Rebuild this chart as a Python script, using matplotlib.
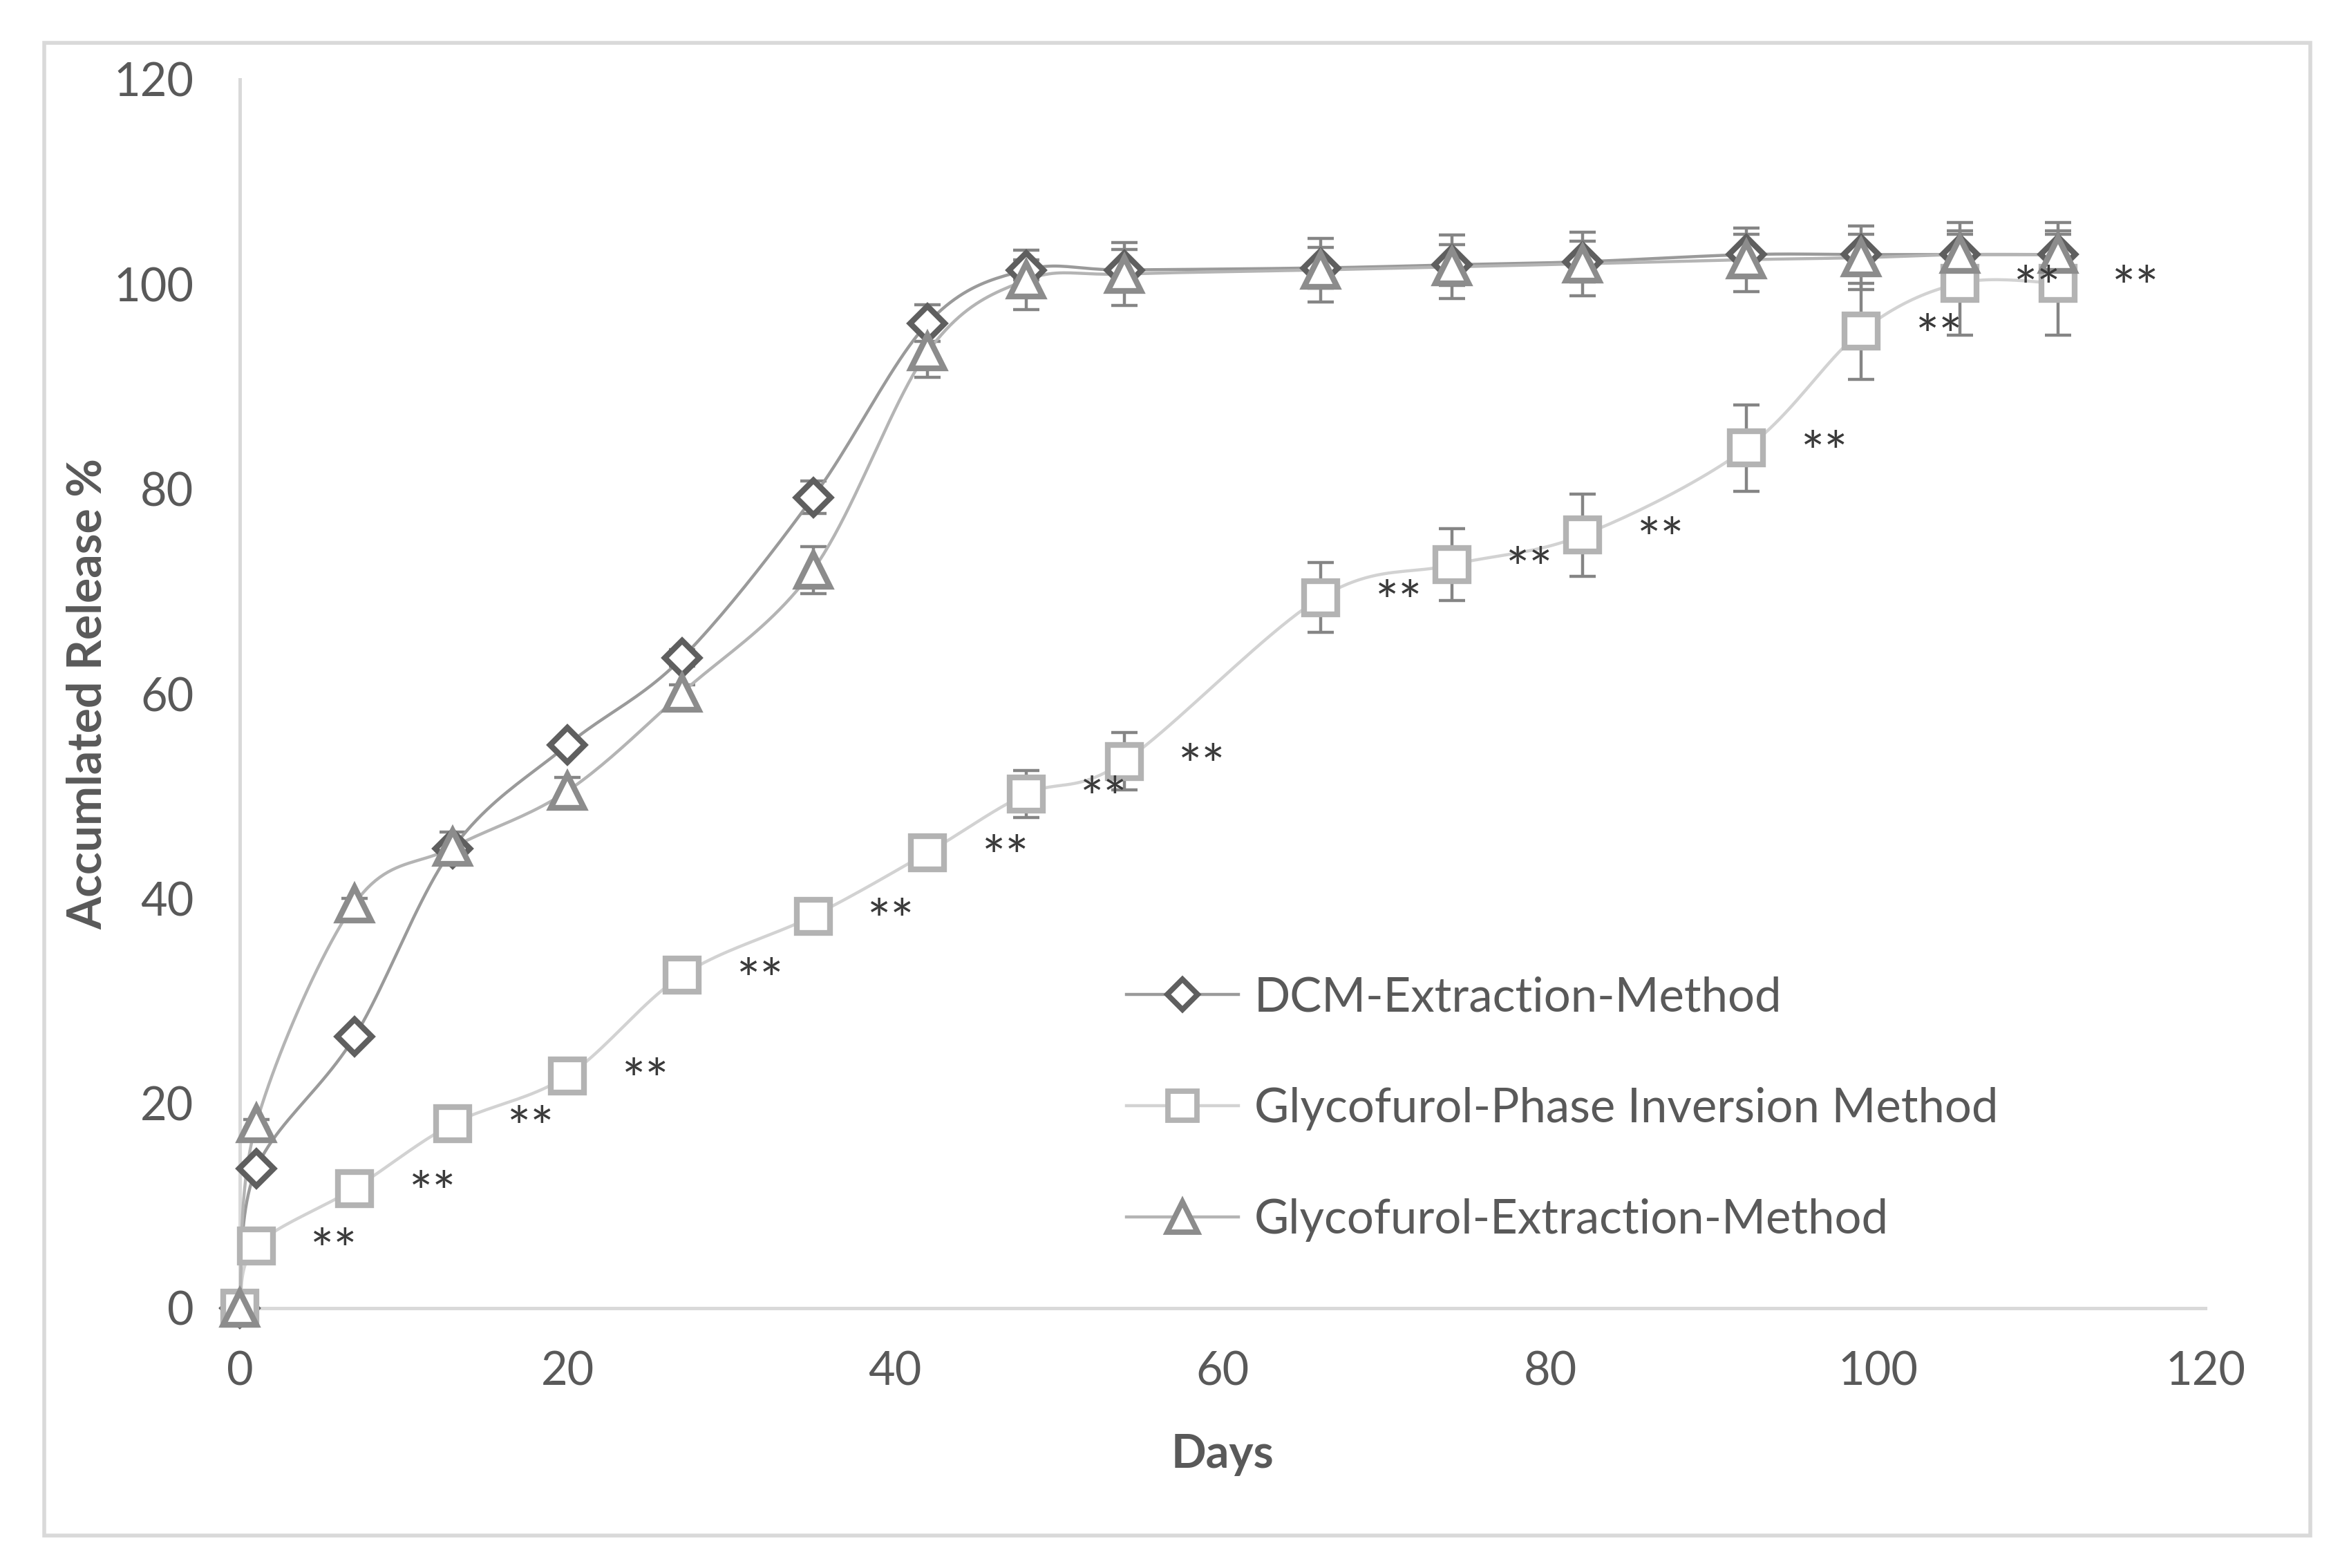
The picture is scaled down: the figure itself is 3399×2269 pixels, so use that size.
import numpy as np
import matplotlib
matplotlib.use('Agg')
import matplotlib.pyplot as plt
from matplotlib.patches import Rectangle
from matplotlib.lines import Line2D

plt.rcParams['font.family'] = ['Lato', 'DejaVu Sans']

# sampling days
days = [0, 1, 7, 13, 20, 27, 35, 42, 48, 54, 66, 74, 82, 92, 99, 105, 111]

# DCM-Extraction-Method
dcm = [0, 13.6, 26.5, 44.9, 55.0, 63.5, 79.2, 96.2, 101.4, 101.4, 101.6, 101.9, 102.2, 102.9, 102.9, 102.9, 102.9]
dcm_err = [0, 0.3, 0.4, 0.5, 0.6, 0.8, 1.6, 1.8, 1.0, 2.0, 2.0, 2.0, 2.0, 2.0, 2.0, 2.0, 2.0]

# Glycofurol-Phase Inversion Method
gpi = [0, 6.1, 11.7, 18.0, 22.7, 32.5, 38.3, 44.5, 50.2, 53.4, 69.4, 72.6, 75.5, 84.0, 95.4, 100.1, 100.1]
gpi_err = [0, 0.3, 0.4, 0.5, 0.6, 0.6, 0.8, 1.6, 2.3, 2.8, 3.4, 3.5, 4.0, 4.2, 4.7, 5.1, 5.1]

# Glycofurol-Extraction-Method
gex = [0, 18.0, 39.5, 45.0, 50.5, 60.1, 72.1, 93.4, 100.4, 101.0, 101.4, 101.7, 102.0, 102.4, 102.6, 102.9, 102.9]
gex_err = [0, 0.4, 0.5, 1.5, 1.3, 0.8, 2.3, 2.5, 2.9, 3.1, 3.1, 3.1, 3.1, 3.1, 3.1, 3.1, 3.1]

labels = ['DCM-Extraction-Method', 'Glycofurol-Phase Inversion Method', 'Glycofurol-Extraction-Method']
ticks = [0, 20, 40, 60, 80, 100, 120]


def smooth(x, y, n=24):
    # excel style smoothed line (catmull-rom as cubic bezier)
    p = np.column_stack([x, y]).astype(float)
    out = [p[0]]
    t = np.linspace(0, 1, n)[1:]
    for i in range(len(p) - 1):
        p0 = p[max(i - 1, 0)]
        p1 = p[i]
        p2 = p[i + 1]
        p3 = p[min(i + 2, len(p) - 1)]
        c1 = p1 + (p2 - p0) / 6.0
        c2 = p2 - (p3 - p1) / 6.0
        for tt in t:
            b = ((1 - tt) ** 3) * p1 + 3 * ((1 - tt) ** 2) * tt * c1 + 3 * (1 - tt) * tt ** 2 * c2 + tt ** 3 * p2
            out.append(b)
    out = np.array(out)
    return out[:, 0], out[:, 1]


W, H = 3399, 2269
fig = plt.figure(figsize=(W / 200, H / 200), dpi=200)
fig.patch.set_facecolor('white')
ax = fig.add_axes([347 / W, 1 - 1893 / H, (3191 - 347) / W, (1893 - 115) / H])

fig.patches.append(Rectangle((64 / W, 1 - 2222 / H), (3343 - 64) / W, (2222 - 62) / H,
                             transform=fig.transFigure, fill=False, edgecolor='#d9d9d9', lw=2))

series = [
    (dcm, dcm_err, '#9a9a9a', 'D', 12.5, '#5f5f5f'),
    (gpi, gpi_err, '#d2d2d2', 's', 17.0, '#b3b3b3'),
    (gex, gex_err, '#b4b4b4', '^', 17.5, '#8c8c8c'),
]

handles = []
for i, (vals, err, lc, mk, ms, mc) in enumerate(series):
    ax.errorbar(days, vals, yerr=err, fmt='none', ecolor='#858585', elinewidth=1.6,
                capsize=6.8, capthick=1.6, zorder=2, clip_on=False)
    sx, sy = smooth(days, vals)
    ax.plot(sx, sy, color=lc, lw=1.6, zorder=3, clip_on=False)
    ax.plot(days, vals, linestyle='none', marker=mk, markersize=ms, markerfacecolor='white',
            markeredgecolor=mc, markeredgewidth=3.0, zorder=5 + i, clip_on=False)
    handles.append(Line2D([], [], color=lc, lw=1.6, marker=mk, markersize=ms * 0.9,
                          markerfacecolor='white', markeredgecolor=mc, markeredgewidth=2.8))

# significance marks next to the phase inversion points
for d, v in zip(days[1:], gpi[1:]):
    ax.annotate('**', (d, v), xytext=(40.3, -4), textcoords='offset points',
                ha='center', va='center', fontsize=29, color='#3a3a3a', zorder=10)

ax.set_xlim(0, 120)
ax.set_ylim(0, 120)
ax.set_xticks(ticks)
ax.set_yticks(ticks)
ax.tick_params(length=0, labelsize=24, labelcolor='#595959')
ax.tick_params(axis='x', pad=22)
ax.tick_params(axis='y', pad=24)
for s in ['top', 'right']:
    ax.spines[s].set_visible(False)
for s in ['left', 'bottom']:
    ax.spines[s].set_color('#d9d9d9')
    ax.spines[s].set_linewidth(1.8)

ax.set_xlabel('Days', fontsize=24, fontweight='bold', color='#595959')
ax.set_ylabel('Accumlated Release %', fontsize=24.5, fontweight='bold', color='#595959')
ax.xaxis.set_label_coords(0.5, -0.102)
ax.yaxis.set_label_coords(-0.066, 0.5)

ax.legend(handles, labels, loc='upper left', bbox_to_anchor=(1630 / W, 1 - 1412 / H),
          bbox_transform=fig.transFigure, frameon=False, fontsize=24.8, labelcolor='#595959',
          handlelength=2.35, handletextpad=0.33, labelspacing=1.42, borderpad=0,
          borderaxespad=0, numpoints=1)

fig.savefig('out.png', dpi=200, facecolor='white')
